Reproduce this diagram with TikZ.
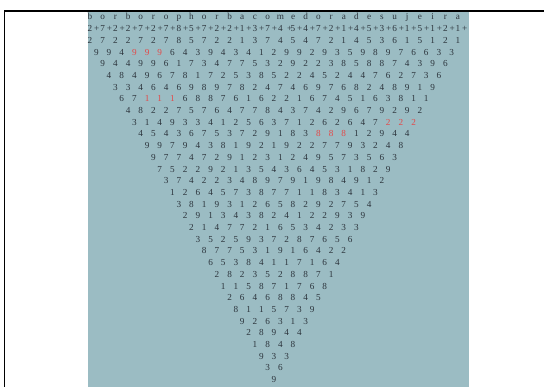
\documentclass[tikz,border=0pt]{standalone}
\usepackage{fontspec}
\setmainfont{Liberation Serif}
\definecolor{panelblue}{RGB}{155, 188, 195}
\definecolor{digitgray}{RGB}{44, 52, 60}
\definecolor{digitred}{RGB}{228, 72, 72}
\newcommand{\rd}[1]{\textcolor{digitred}{#1}}

\begin{document}
\begin{tikzpicture}[x=1pt, y=-1pt,
    cell/.style={anchor=base, inner sep=0pt, text=digitgray, font=\fontsize{9.2}{11}\selectfont}]
    \useasboundingbox (0,0) rectangle (544,387);

    % Panel
    \fill[panelblue] (88,12.5) rectangle (469,387);

    % Frame
    \draw[line width=1.6pt] (4.5,387) -- (4.5,11) -- (544,11);

    % Letters
    \foreach \c [count=\j from 0] in {b,o,r,b,o,r,o,p,h,o,r,b,a,c,o,m,e,d,o,r,a,d,e,s,u,j,e,i,r,a}
        \node[cell] (L\j) at ({90+\j*12.69},20) {\c};

    % Letter values with plus signs
    \foreach \v [count=\j from 0] in {2,7,2,2,7,2,7,8,5,7,2,2,1,3,7,4,5,4,7,2,1,4,5,3,6,1,5,1,2,1} {
        \pgfmathsetmacro{\dx}{\j==15 ? 2.5 : 0}
        \node[cell] (P\j) at ({90+\j*12.69},31.7) {\v};
        \node[cell] (S\j) at ({96.8+\j*12.69+\dx},31.7) {+};
    }

    % Triangle of sums
    \foreach \row [count=\k from 2] in {
        {2,7,2,2,7,2,7,8,5,7,2,2,1,3,7,4,5,4,7,2,1,4,5,3,6,1,5,1,2,1},
        {9,9,4,\rd{9},\rd{9},\rd{9},6,4,3,9,4,3,4,1,2,9,9,2,9,3,5,9,8,9,7,6,6,3,3},
        {9,4,4,9,9,6,1,7,3,4,7,7,5,3,2,9,2,2,3,8,5,8,8,7,4,3,9,6},
        {4,8,4,9,6,7,8,1,7,2,5,3,8,5,2,2,4,5,2,4,4,7,6,2,7,3,6},
        {3,3,4,6,4,6,9,8,9,7,8,2,4,7,4,6,9,7,6,8,2,4,8,9,1,9},
        {6,7,\rd{1},\rd{1},\rd{1},6,8,8,7,6,1,6,2,2,1,6,7,4,5,1,6,3,8,1,1},
        {4,8,2,2,7,5,7,6,4,7,7,8,4,3,7,4,2,9,6,7,9,2,9,2},
        {3,1,4,9,3,3,4,1,2,5,6,3,7,1,2,6,2,6,4,7,\rd{2},\rd{2},\rd{2}},
        {4,5,4,3,6,7,5,3,7,2,9,1,8,3,\rd{8},\rd{8},\rd{8},1,2,9,4,4},
        {9,9,7,9,4,3,8,1,9,2,1,9,2,2,7,7,9,3,2,4,8},
        {9,7,7,4,7,2,9,1,2,3,1,2,4,9,5,7,3,5,6,3},
        {7,5,2,2,9,2,1,3,5,4,3,6,4,5,3,1,8,2,9},
        {3,7,4,2,2,3,4,8,9,7,9,1,9,8,4,9,1,2},
        {1,2,6,4,5,7,3,8,7,7,1,1,8,3,4,1,3},
        {3,8,1,9,3,1,2,6,5,8,2,9,2,7,5,4},
        {2,9,1,3,4,3,8,2,4,1,2,2,9,3,9},
        {2,1,4,7,7,2,1,6,5,3,4,2,3,3},
        {3,5,2,5,9,3,7,2,8,7,6,5,6},
        {8,7,7,5,3,1,9,1,6,4,2,2},
        {6,5,3,8,4,1,1,7,1,6,4},
        {2,8,2,3,5,2,8,8,7,1},
        {1,1,5,8,7,1,7,6,8},
        {2,6,4,6,8,8,4,5},
        {8,1,1,5,7,3,9},
        {9,2,6,3,1,3},
        {2,8,9,4,4},
        {1,8,4,8},
        {9,3,3},
        {3,6},
        {9}} {
        \foreach \v [count=\j from 0] in \row
            \node[cell] (d\k-\j) at ({274+(\j-(31-\k)/2)*12.69},{20+\k*11.7}) {\v};
    }
\end{tikzpicture}
\end{document}
